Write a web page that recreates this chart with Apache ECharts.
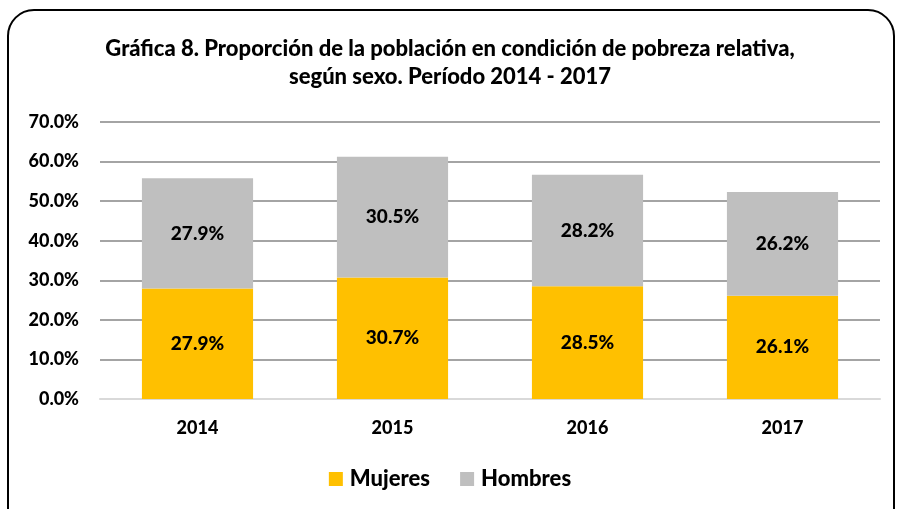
<!DOCTYPE html>
<html>
<head>
<meta charset="utf-8">
<script src="https://cdn.jsdelivr.net/npm/echarts@6/dist/echarts.min.js"></script>
<style>
  html, body { margin: 0; padding: 0; background: #fff; }
  #chart { width: 900px; height: 509px; }
</style>
</head>
<body>
<div id="chart"></div>
<script>
var years = ['2014', '2015', '2016', '2017']
var mujeres = [27.9, 30.7, 28.5, 26.1]
var hombres = [27.9, 30.5, 28.2, 26.2]
var yTicks = [0, 10, 20, 30, 40, 50, 60, 70]

var font = 'Lato, "Open Sans", sans-serif'
var chart = echarts.init(document.getElementById('chart'))

var labelStyle = {
  show: true,
  position: 'inside',
  formatter: function (p) { return p.value.toFixed(1) + '%' },
  color: '#000',
  fontFamily: font,
  fontWeight: 900,
  fontSize: 19
}

chart.setOption({
  animation: false,
  graphic: [{
    type: 'rect',
    shape: { x: 8, y: 10, width: 886, height: 530, r: 26 },
    style: { fill: 'none', stroke: '#000', lineWidth: 2 },
    silent: true
  }],
  title: {
    text: 'Gráfica 8. Proporción de la población en condición de pobreza relativa,\nsegún sexo. Período 2014 - 2017',
    left: 'center',
    top: 30,
    textStyle: {
      fontFamily: font,
      fontWeight: 900,
      fontSize: 22,
      lineHeight: 28,
      color: '#000'
    }
  },
  legend: {
    bottom: 14,
    left: 'center',
    itemWidth: 14,
    itemHeight: 14,
    itemGap: 30,
    icon: 'rect',
    textStyle: { fontFamily: font, fontWeight: 900, fontSize: 22, color: '#000', padding: [0, 0, 0, 2] },
    data: ['Mujeres', 'Hombres']
  },
  grid: { left: 100, right: 20, top: 122, bottom: 110 },
  xAxis: {
    type: 'category',
    data: years,
    axisLine: { lineStyle: { color: '#d9d9d9', width: 2 } },
    axisTick: { show: false },
    axisLabel: { margin: 20, color: '#000', fontFamily: font, fontWeight: 900, fontSize: 18 }
  },
  yAxis: {
    type: 'value',
    min: yTicks[0],
    max: yTicks[yTicks.length - 1],
    interval: 10,
    axisLine: { show: false },
    axisTick: { show: false },
    splitLine: { lineStyle: { color: '#868686', width: 1.5 } },
    axisLabel: {
      margin: 21,
      color: '#000',
      fontFamily: font,
      fontWeight: 900,
      fontSize: 18,
      formatter: function (v) { return v.toFixed(1) + '%' }
    }
  },
  series: [
    {
      name: 'Mujeres',
      type: 'bar',
      stack: 'total',
      barWidth: '57%',
      data: mujeres,
      itemStyle: { color: '#ffc000' },
      label: labelStyle
    },
    {
      name: 'Hombres',
      type: 'bar',
      stack: 'total',
      data: hombres,
      itemStyle: { color: '#bfbfbf' },
      label: labelStyle
    }
  ]
})
</script>
</body>
</html>
